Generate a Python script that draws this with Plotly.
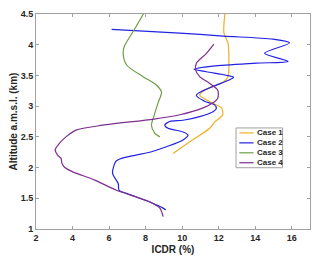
import plotly.graph_objects as go

# Case 1 (yellow)
c1_x = [12.34, 12.29, 12.51, 12.56, 12.51, 12.24, 11.23, 10.96, 11.67, 12.16, 12.22, 11.78, 11.51, 10.42, 9.5]
c1_y = [4.50, 4.19, 4.03, 3.75, 3.48, 3.39, 3.26, 3.18, 3.05, 2.97, 2.86, 2.74, 2.64, 2.42, 2.23]

# Case 2 (blue)
c2_x = [6.14, 9.87, 12.24, 14.97, 15.88, 14.51, 15.80, 14.06, 11.69, 10.65, 11.33, 12.82, 12.6,
        10.78, 11.23, 11.78, 11.87, 11.69, 10.96, 10.05, 9.32, 9.05, 9.23, 10.05, 10.32, 10.05,
        9.14, 8.23, 7.41, 6.59, 6.37, 6.19, 6.50, 6.55, 6.96, 8.23, 8.96, 9.10]
c2_y = [4.25, 4.19, 4.14, 4.09, 4.03, 3.86, 3.73, 3.70, 3.65, 3.60, 3.56, 3.47, 3.43,
        3.18, 3.08, 3.02, 2.96, 2.91, 2.83, 2.77, 2.75, 2.69, 2.64, 2.58, 2.53, 2.45,
        2.34, 2.25, 2.20, 2.14, 2.10, 1.91, 1.74, 1.63, 1.58, 1.44, 1.34, 1.31]

# Case 3 (green)
c3_x = [7.88, 7.37, 6.83, 6.77, 6.96, 7.86, 8.60, 8.87, 8.68, 8.45, 8.32, 8.50, 8.78]
c3_y = [4.50, 4.24, 3.97, 3.86, 3.67, 3.48, 3.34, 3.23, 3.05, 2.83, 2.69, 2.56, 2.50]

# Case 4 (purple)
c4_x = [11.74, 11.33, 10.78, 10.74, 10.96, 11.51, 11.95, 11.95, 11.67, 11.05, 9.87, 8.46, 5.64,
        4.19, 3.64, 3.27, 3.05, 3.19, 3.37, 3.42, 3.55, 4.01, 5.19, 6.41, 8.23, 8.78, 8.96]
c4_y = [4.01, 3.86, 3.70, 3.59, 3.48, 3.37, 3.26, 3.13, 3.05, 2.96, 2.86, 2.79, 2.69,
        2.61, 2.50, 2.39, 2.29, 2.20, 2.15, 2.07, 2.01, 1.93, 1.80, 1.63, 1.44, 1.34, 1.20]

names = ["Case 1", "Case 2", "Case 3", "Case 4"]
colors = ["#EDB120", "#2222E6", "#6E9E45", "#7E2F8E"]
xs = [c1_x, c2_x, c3_x, c4_x]
ys = [c1_y, c2_y, c3_y, c4_y]

x_ticks = [2, 4, 6, 8, 10, 12, 14, 16]
y_ticks = [1, 1.5, 2, 2.5, 3, 3.5, 4, 4.5]

FONT = "Liberation Sans, Arial, sans-serif"

fig = go.Figure()
for x, y, n, c in zip(xs, ys, names, colors):
    fig.add_trace(go.Scatter(x=x, y=y, mode="lines", name=n,
                             line=dict(color=c, width=1.2, shape="spline", smoothing=0.8),
                             showlegend=False))

# manual legend (MATLAB style box)
lx0, lx1, ly_top, ly_bot = 0.73, 0.9, 0.47, 0.285
fig.add_shape(type="rect", xref="paper", yref="paper", x0=lx0, x1=lx1, y0=ly_bot, y1=ly_top,
              line=dict(color="#A0A0A0", width=1), fillcolor="white", layer="above")
step = (ly_top - ly_bot) / 4
for i, (n, c) in enumerate(zip(names, colors)):
    yy = ly_top - step * (i + 0.5)
    fig.add_shape(type="line", xref="paper", yref="paper", x0=lx0 + 0.012, x1=lx0 + 0.064,
                  y0=yy, y1=yy, line=dict(color=c, width=1.2), layer="above")
    fig.add_annotation(xref="paper", yref="paper", x=lx0 + 0.068, y=yy, text="<b>%s</b>" % n,
                       showarrow=False, xanchor="left", yanchor="middle",
                       font=dict(family=FONT, size=8, color="#262626"))

axis_common = dict(showline=True, linecolor="#A0A0A0", linewidth=1, mirror="ticks",
                   ticks="inside", ticklen=3, tickcolor="#A0A0A0", showgrid=False,
                   zeroline=False, automargin=False,
                   tickfont=dict(family=FONT, size=9, color="#262626"))

fig.update_layout(
    width=320, height=265,
    margin=dict(l=28, r=18, t=6, b=44),
    paper_bgcolor="white", plot_bgcolor="white",
    xaxis=dict(range=[2, 17], tickvals=x_ticks, ticktext=["<b>%g</b>" % v for v in x_ticks],
               title=dict(text="<b>ICDR (%)</b>", font=dict(family=FONT, size=10, color="#262626"),
                          standoff=4),
               **axis_common),
    yaxis=dict(range=[1, 4.5], tickvals=y_ticks, ticktext=["<b>%g</b>" % v for v in y_ticks],
               title=dict(text="<b>Altitude a.m.s.l. (km)</b>",
                          font=dict(family=FONT, size=10, color="#262626"), standoff=4),
               **axis_common),
)

fig.write_html("out.html")
